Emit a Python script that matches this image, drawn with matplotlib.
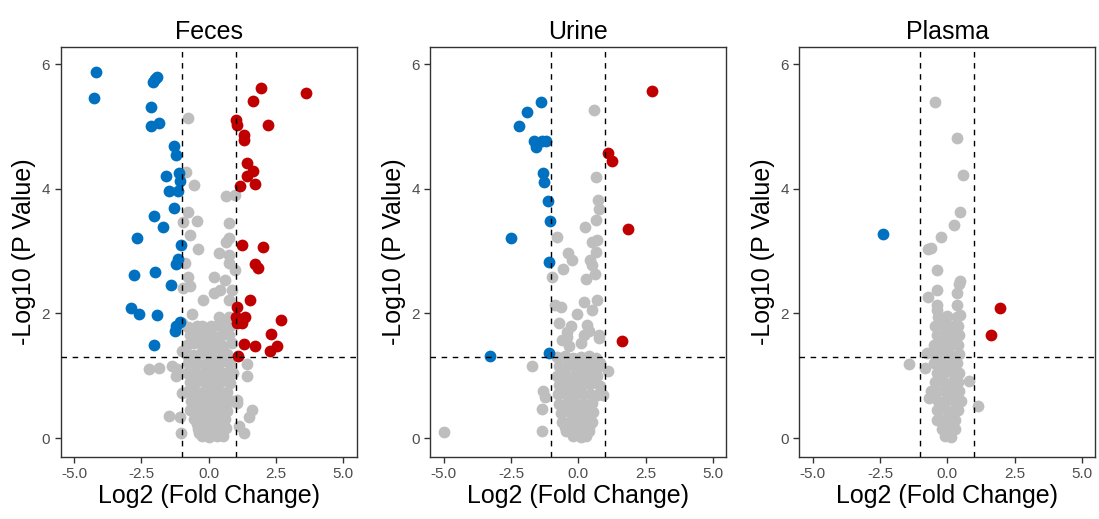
#Volcano plots: Feces, Urine, Plasma
import numpy as np
import matplotlib.pyplot as plt

#Feces (log2 fold change, -log10 p value)
feces_fc = [-4.19, -4.27, -1.92, -2.07, -2.0, -2.14, -1.86, -2.13, -1.28, -1.21, -1.58, -1.12, -1.05,
            -1.49, -1.14, -1.30, -2.04, -1.71, -2.66, -1.02, -1.14, -1.20, -2.76, -2.01, -1.39, -2.88,
            -2.60, -1.92, -1.05, -1.20, -1.24, -2.04,
            1.95, 3.63, 1.66, 1.02, 1.06, 2.19, 1.33, 1.30, 1.43, 1.65, 1.43, 1.74, 1.18, 1.24, 2.02,
            1.74, 1.82, 1.53, 1.06, 1.36, 1.02, 2.70, 1.24, 1.06, 2.33, 1.30, 1.74, 2.29, 2.54, 1.09,
            -0.77, -0.84, -0.56, 0.65, 0.99, -0.77, -0.43, -0.97, 0.74, -0.68, 0.74, 0.65, -0.39, 0.37,
            0.74, -0.87, 0.74, 0.97, 0.19, -0.77, 0.62, -0.68, -0.97, 0.43, 0.19, 0.87, -0.22, 0.74,
            -0.62, 0.37, 0.74, -0.98, -0.25, 0.62,
            -2.20, -1.83, -1.36, -1.16, -0.99, 1.43, 1.43, -0.99, 1.06, 1.61, 1.49, -1.46, -1.06, -1.01,
            1.30, 1.06, 1.12, -1.20,
            -0.75, -0.45, -0.2, 0.1, 0.35, 0.6, 0.8,
            -0.7, -0.4, -0.1, 0.2, 0.5, 0.75,
            -0.8, -0.55, -0.25, 0.05, 0.3, 0.55, 0.85,
            -0.85, -0.6, -0.3, 0.0, 0.25, 0.5, 0.7,
            -0.75, -0.45, -0.15, 0.15, 0.45, 0.8,
            -0.8, -0.5, -0.2, 0.1, 0.4, 0.65, 0.9,
            -0.7, -0.4, -0.1, 0.2, 0.5, 0.8,
            -0.75, -0.5, -0.2, 0.1, 0.4, 0.7,
            -0.65, -0.35, -0.05, 0.25, 0.55, 0.85,
            -0.7, -0.45, -0.15, 0.15, 0.45, 0.7,
            -0.55, -0.25, 0.05, 0.35, 0.6,
            -0.4, -0.1, 0.2, 0.45, 0.65,
            -0.25, 0.0, 0.3, 0.55,
            -0.6, -0.3, 0.0, 0.3, 0.6,
            -0.55, -0.25, 0.05, 0.35, 0.62,
            -0.6, -0.3, 0.0, 0.3, 0.6,
            -0.45, -0.15, 0.3, 0.55,
            -0.35, 0.1, 0.4]
feces_p = [5.87, 5.45, 5.80, 5.71, 5.76, 5.31, 5.06, 5.01, 4.69, 4.55, 4.21, 4.25, 4.12,
           3.96, 3.96, 3.69, 3.57, 3.38, 3.21, 3.09, 2.88, 2.79, 2.61, 2.67, 2.45, 2.09,
           1.99, 1.98, 1.87, 1.80, 1.72, 1.50,
           5.62, 5.53, 5.41, 5.11, 5.02, 5.02, 4.87, 4.79, 4.41, 4.29, 4.20, 4.08, 4.04, 3.09, 3.07,
           2.80, 2.73, 2.21, 2.10, 1.95, 1.95, 1.90, 1.85, 1.84, 1.67, 1.51, 1.47, 1.39, 1.47, 1.32,
           5.14, 4.27, 4.06, 3.89, 3.90, 3.63, 3.49, 3.46, 3.45, 3.26, 3.21, 3.15, 3.03, 2.97,
           2.93, 2.81, 2.81, 2.69, 2.58, 2.58, 2.54, 2.44, 2.40, 2.38, 2.33, 2.37, 2.22, 2.22,
           1.99, 1.95, 1.95, 1.84, 1.80, 1.82,
           1.10, 1.12, 1.16, 1.10, 1.39, 1.18, 0.99, 0.72, 0.56, 0.45, 0.34, 0.35, 0.33, 0.08,
           0.08, 0.61, 0.19, 1.00,
           1.78, 1.80, 1.76, 1.79, 1.81, 1.77, 1.80,
           1.65, 1.64, 1.66, 1.63, 1.65, 1.66,
           1.50, 1.52, 1.49, 1.51, 1.50, 1.48, 1.52,
           1.35, 1.34, 1.36, 1.35, 1.33, 1.36, 1.35,
           1.20, 1.21, 1.19, 1.20, 1.22, 1.19,
           1.05, 1.06, 1.04, 1.05, 1.06, 1.04, 1.05,
           0.90, 0.91, 0.89, 0.90, 0.91, 0.89,
           0.75, 0.76, 0.74, 0.75, 0.76, 0.74,
           0.60, 0.61, 0.59, 0.60, 0.61, 0.59,
           0.45, 0.46, 0.44, 0.45, 0.46, 0.44,
           0.30, 0.31, 0.29, 0.30, 0.31,
           0.15, 0.16, 0.14, 0.15, 0.16,
           0.03, 0.02, 0.03, 0.04,
           0.97, 0.98, 0.96, 0.97, 0.98,
           0.67, 0.68, 0.66, 0.67, 0.68,
           0.52, 0.53, 0.51, 0.52, 0.53,
           0.22, 0.23, 0.21, 0.22,
           0.08, 0.07, 0.09]

#Urine
urine_fc = [-1.38, -1.89, -2.22, -1.66, -1.56, -1.19, -1.34, -1.32, -1.28, -1.13, -1.06, -2.49,
            -1.08, -3.27, -1.10,
            2.74, 1.12, 1.24, 1.84, 1.64,
            0.58, 0.66, 0.75, 0.78, 0.67, 0.25, -0.80, 0.52, 0.71, 0.66, -0.37, -0.22, 0.42, 0.50,
            -0.55, -0.99, 0.61, 0.28, 0.71, 0.21, -0.88, -0.64, -0.03, 0.50, -0.72, -0.28, -0.41,
            0.33, 0.39, 0.21, 0.77, 0.09, -0.41, -0.34, 0.79, -0.60,
            -1.70, 1.12, -1.31, -1.22, -1.34, -1.34, -4.99, 0.92, 0.80,
            -0.8, -0.5, -0.2, 0.1, 0.4, 0.65,
            -0.7, -0.4, -0.1, 0.2, 0.5, 0.75,
            -0.8, -0.5, -0.2, 0.1, 0.4, 0.7,
            -0.7, -0.45, -0.15, 0.15, 0.45, 0.8,
            -0.75, -0.45, -0.15, 0.15, 0.45, 0.7,
            -0.7, -0.4, -0.1, 0.2, 0.5,
            -0.65, -0.35, -0.05, 0.25, 0.55,
            -0.6, -0.3, 0.0, 0.3, 0.5,
            -0.45, -0.15, 0.15, 0.4,
            -0.2, 0.1, 0.3,
            -0.55, -0.25, 0.05, 0.35, 0.6,
            -0.55, -0.25, 0.05, 0.35,
            -0.5, -0.2, 0.1, 0.4]
urine_p = [5.39, 5.24, 5.00, 4.76, 4.67, 4.76, 4.76, 4.25, 4.11, 3.81, 3.49, 3.21,
           2.82, 1.31, 1.37,
           5.57, 4.58, 4.45, 3.35, 1.56,
           5.27, 4.19, 3.82, 3.68, 3.50, 3.38, 3.23, 3.15, 3.17, 2.99, 2.97, 2.85, 2.86, 2.78,
           2.72, 2.58, 2.64, 2.56, 2.22, 2.18, 2.14, 2.10, 1.99, 2.05, 1.84, 1.79, 1.70,
           1.81, 1.72, 1.65, 1.65, 1.53, 1.62, 1.47, 1.60, 1.58,
           1.15, 1.08, 0.75, 0.66, 0.47, 0.12, 0.09, 0.69, 1.20,
           1.30, 1.31, 1.29, 1.30, 1.31, 1.29,
           1.15, 1.16, 1.14, 1.15, 1.16, 1.14,
           1.00, 1.01, 0.99, 1.00, 1.01, 0.99,
           0.85, 0.86, 0.84, 0.85, 0.86, 0.84,
           0.70, 0.71, 0.69, 0.70, 0.71, 0.69,
           0.55, 0.56, 0.54, 0.55, 0.56,
           0.40, 0.41, 0.39, 0.40, 0.41,
           0.25, 0.26, 0.24, 0.25, 0.26,
           0.12, 0.13, 0.11, 0.12,
           0.03, 0.02, 0.04,
           0.92, 0.93, 0.91, 0.92, 0.93,
           0.47, 0.48, 0.46, 0.47,
           0.18, 0.19, 0.17, 0.18]

#Plasma
plasma_fc = [-2.38, 1.95, 1.61,
             -0.44, 0.37, 0.60, 0.47, 0.25, -0.25, -0.62, -0.71, -0.37, 0.49, 0.43, -0.37, -0.72,
             0.36, 0.36, -0.40, -0.37, 0.47, -1.43, -0.77, -0.81, 0.80, -0.62, -0.68, 1.15, -0.37,
             -0.35, 0.0, 0.35,
             -0.45, -0.15, 0.15, 0.4,
             -0.4, -0.1, 0.2, 0.45,
             -0.5, -0.2, 0.1, 0.4,
             -0.45, -0.15, 0.15, 0.45,
             -0.5, -0.2, 0.1, 0.35,
             -0.4, -0.1, 0.2, 0.45,
             -0.45, -0.15, 0.15, 0.4,
             -0.4, -0.1, 0.2, 0.45,
             -0.35, -0.05, 0.25, 0.5,
             -0.4, -0.1, 0.2, 0.4,
             -0.3, 0.0, 0.3,
             -0.2, 0.05, 0.3,
             -0.1, 0.15]
plasma_p = [3.27, 2.08, 1.65,
            5.39, 4.82, 4.22, 3.63, 3.42, 3.23, 3.05, 3.04, 2.70, 2.52, 2.47, 2.37, 2.26,
            2.33, 2.14, 2.14, 2.05, 1.98, 1.19, 1.36, 1.12, 0.91, 0.75, 0.64, 0.51, 0.29,
            1.95, 1.96, 1.94,
            1.80, 1.81, 1.79, 1.80,
            1.65, 1.66, 1.64, 1.65,
            1.50, 1.51, 1.49, 1.50,
            1.35, 1.36, 1.34, 1.35,
            1.20, 1.21, 1.19, 1.20,
            1.05, 1.06, 1.04, 1.05,
            0.90, 0.91, 0.89, 0.90,
            0.75, 0.76, 0.74, 0.75,
            0.60, 0.61, 0.59, 0.60,
            0.45, 0.46, 0.44, 0.45,
            0.30, 0.31, 0.29,
            0.15, 0.16, 0.14,
            0.03, 0.02]

titulos = ["Feces", "Urine", "Plasma"]
paneles = [(feces_fc, feces_p), (urine_fc, urine_p), (plasma_fc, plasma_p)]

plt.rcParams['font.family'] = ['Liberation Sans', 'DejaVu Sans']
plt.rcParams['axes.unicode_minus'] = False

fig = plt.figure(figsize=(10.99, 5.19), dpi=100)
izquierdas = [0.0552, 0.3915, 0.7273]
corte_p = -np.log10(0.05)

for i in range(3):
    ax = fig.add_axes([izquierdas[i], 0.120, 0.2693, 0.7888])
    fc = np.array(paneles[i][0])
    p = np.array(paneles[i][1])
    #clasificacion por umbrales
    arriba = (fc > 1) & (p > corte_p)
    abajo = (fc < -1) & (p > corte_p)
    nada = ~(arriba | abajo)
    ax.scatter(fc[nada], p[nada], s=72, color="#BEBEBE", linewidths=0, zorder=2)
    ax.scatter(fc[abajo], p[abajo], s=72, color="#0070C0", linewidths=0, zorder=3)
    ax.scatter(fc[arriba], p[arriba], s=72, color="#C00000", linewidths=0, zorder=3)
    ax.axvline(-1, color="black", ls=(0, (4, 4)), lw=1, zorder=4)
    ax.axvline(1, color="black", ls=(0, (4, 4)), lw=1, zorder=4)
    ax.axhline(corte_p, color="black", ls=(0, (4, 4)), lw=1, zorder=4)
    ax.set_xlim(-5.5, 5.5)
    ax.set_ylim(-0.3, 6.27)
    ax.set_xticks([-5, -2.5, 0, 2.5, 5])
    ax.set_xticklabels(["-5.0", "-2.5", "0.0", "2.5", "5.0"])
    ax.set_yticks([0, 2, 4, 6])
    ax.tick_params(labelsize=11, labelcolor="#4D4D4D", color="#333333", length=4, width=1)
    for s in ax.spines.values():
        s.set_color("#333333")
        s.set_linewidth(1)
    ax.set_title(titulos[i], fontsize=18, pad=6)
    ax.set_xlabel("Log2 (Fold Change)", fontsize=18, labelpad=2)
    ax.set_ylabel("-Log10 (P Value)", fontsize=18, labelpad=4)

plt.savefig("out.png", dpi=100)
